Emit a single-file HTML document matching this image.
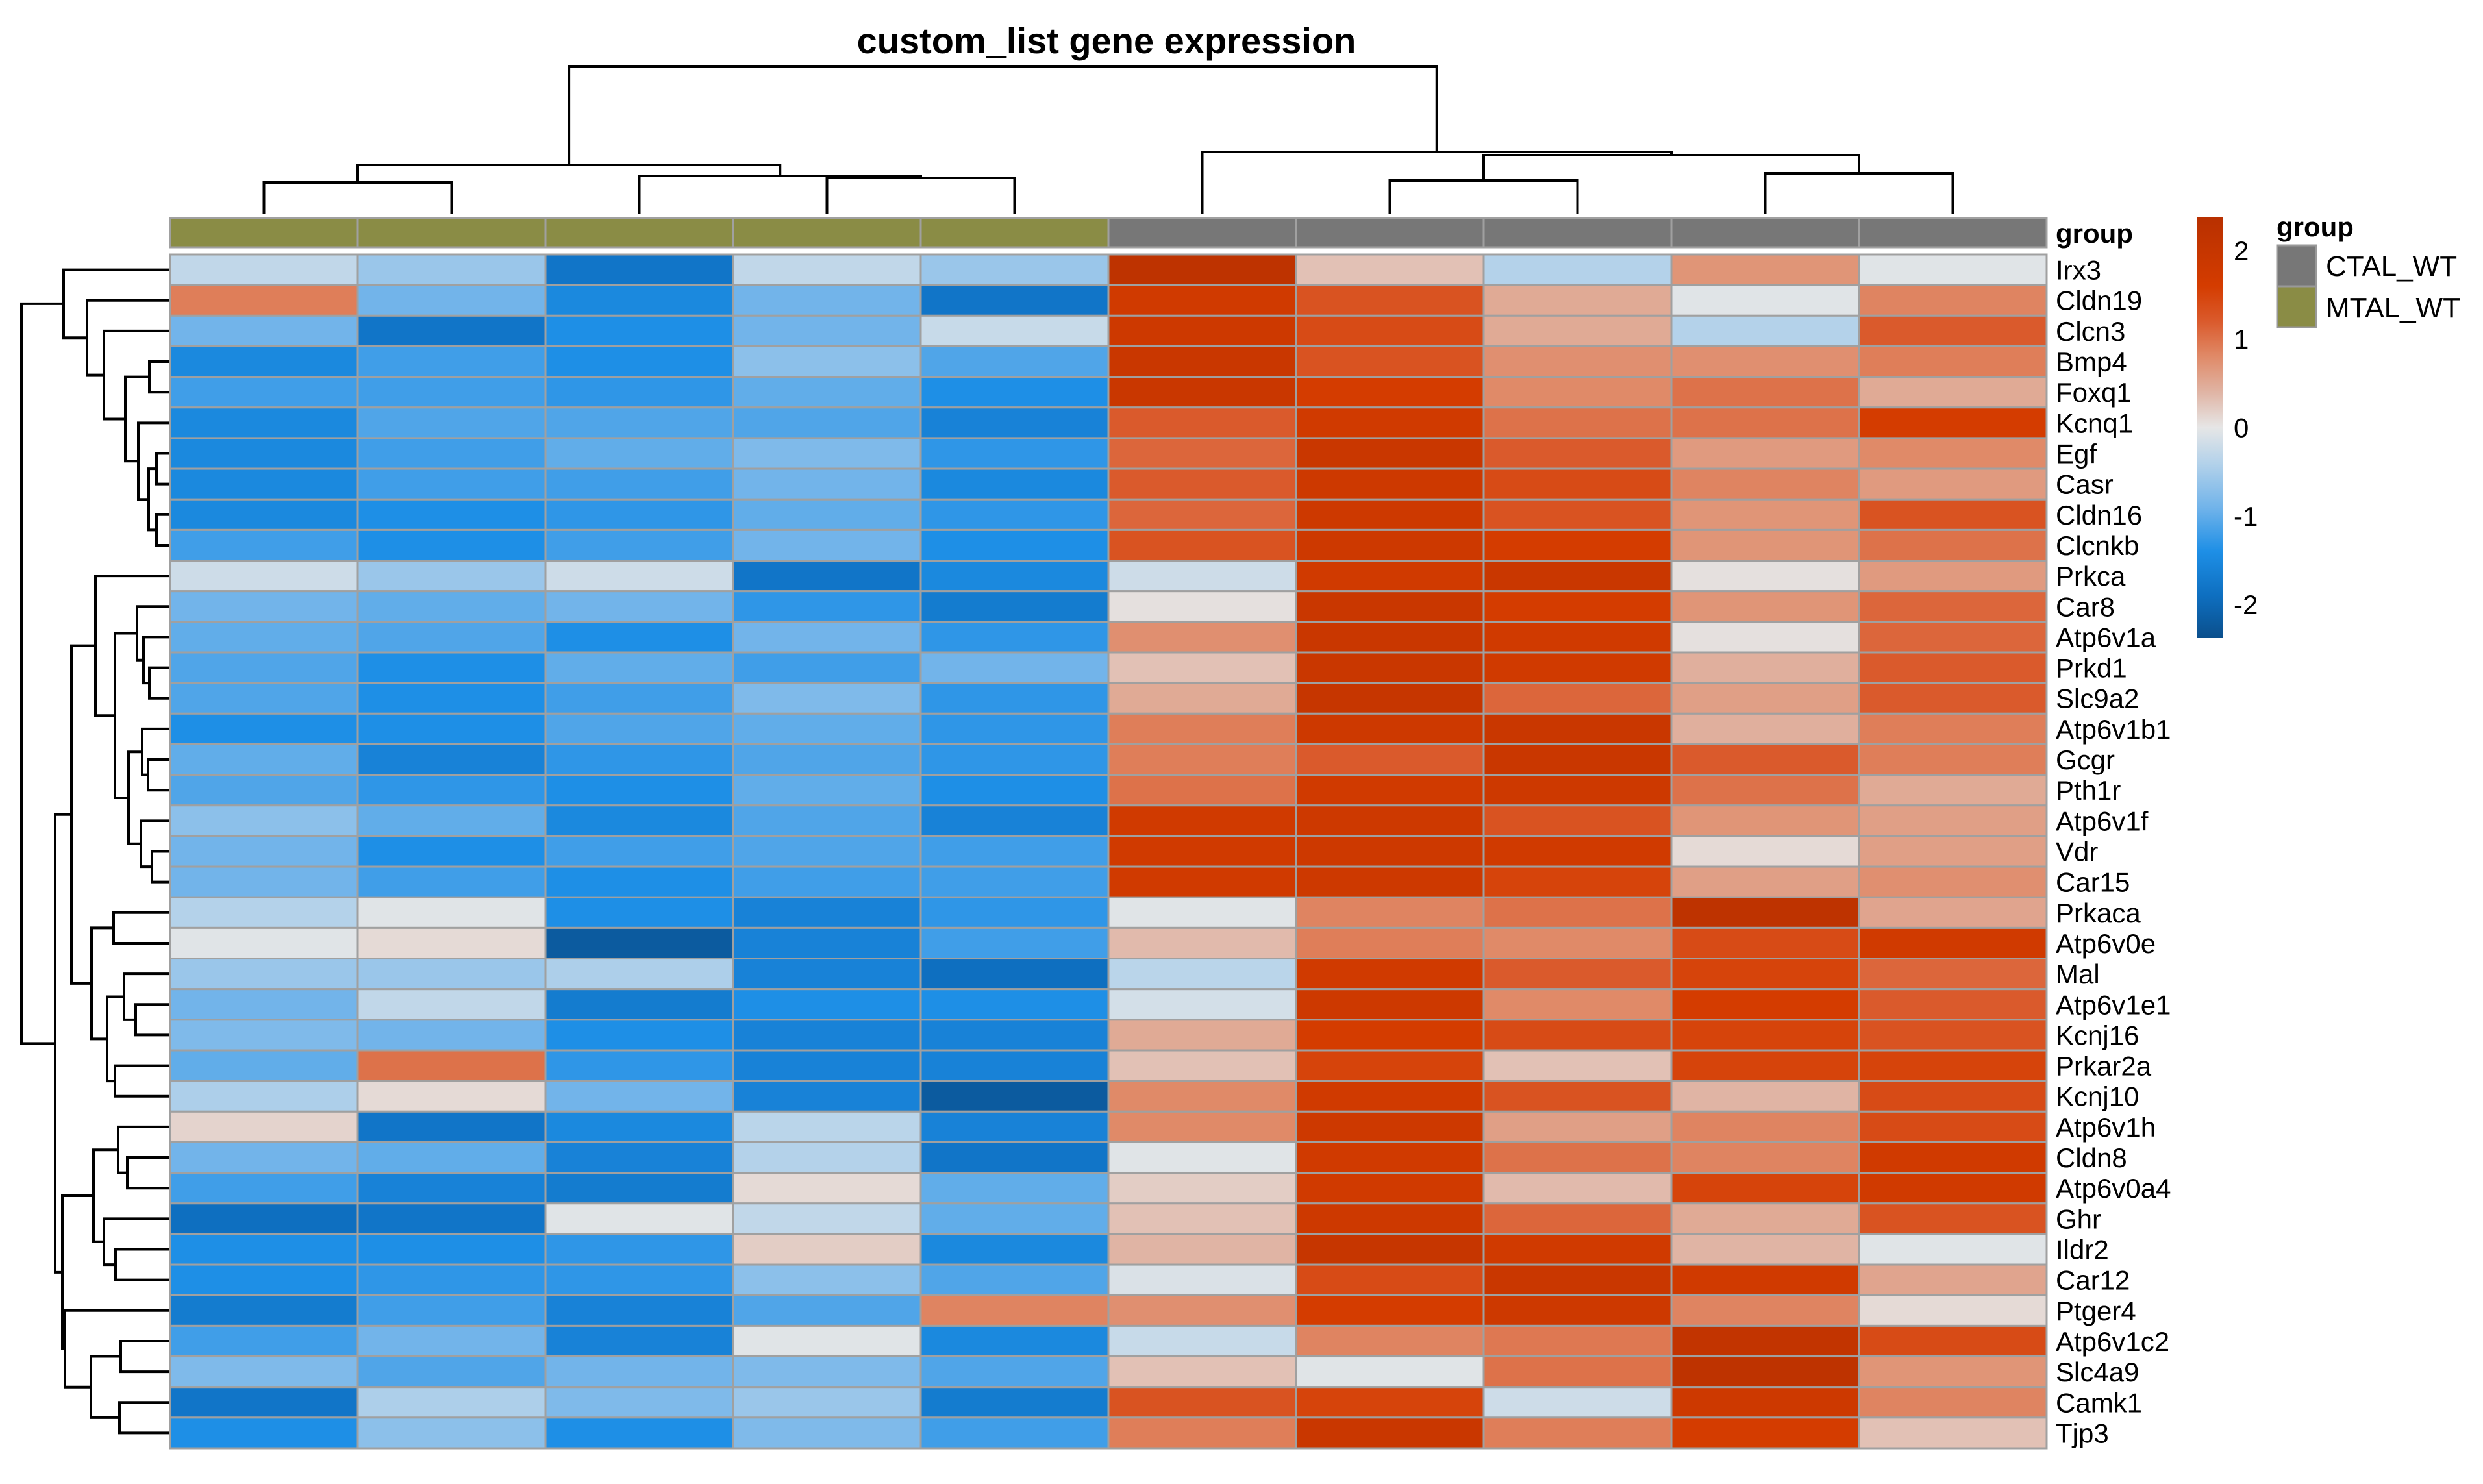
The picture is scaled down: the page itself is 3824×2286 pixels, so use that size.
<!DOCTYPE html>
<html><head><meta charset="utf-8"><style>
html,body{margin:0;padding:0;background:#fff;}
svg{display:block;font-family:"Liberation Sans",Arial,sans-serif;}
</style></head><body>
<svg id="chart" width="3824" height="2286" viewBox="0 0 3824 2286" xmlns="http://www.w3.org/2000/svg">
<rect width="3824" height="2286" fill="#fff"/>
<text x="1704" y="82" font-size="56" font-weight="bold" text-anchor="middle" fill="#000">custom_list gene expression</text>
<g id="coltree"></g>
<g id="rowtree"></g>
<g id="annot"></g>
<g id="cells"></g>
<g id="labels"></g>
<text x="3166" y="374" font-size="42" font-weight="bold">group</text>
<defs><linearGradient id="cbar" x1="0" y1="1" x2="0" y2="0">
<stop offset="0" stop-color="#0b4f8c"/><stop offset="0.101" stop-color="#0e6fc0"/><stop offset="0.206" stop-color="#1e8fe6"/><stop offset="0.311" stop-color="#72b4ea"/><stop offset="0.416" stop-color="#b4d2ea"/><stop offset="0.5" stop-color="#e6e6e6"/><stop offset="0.584" stop-color="#e0b4a4"/><stop offset="0.668" stop-color="#e08a68"/><stop offset="0.752" stop-color="#da5a2c"/><stop offset="0.836" stop-color="#d43c00"/><stop offset="1" stop-color="#b83000"/>
</linearGradient></defs>
<rect x="3383" y="334" width="40" height="649" fill="url(#cbar)"/>
<g id="cticks" font-size="42"></g>
<text x="3506" y="364" font-size="42" font-weight="bold">group</text>
<rect x="3507" y="378" width="60" height="63" fill="#777777" stroke="#999" stroke-width="3"/>
<rect x="3507" y="441" width="60" height="63" fill="#8a8c45" stroke="#999" stroke-width="3"/>
<text x="3582" y="425" font-size="44">CTAL_WT</text>
<text x="3582" y="489" font-size="44">MTAL_WT</text>
</svg>
<script>
const genes = ["Irx3","Cldn19","Clcn3","Bmp4","Foxq1","Kcnq1","Egf","Casr","Cldn16","Clcnkb","Prkca","Car8","Atp6v1a","Prkd1","Slc9a2","Atp6v1b1","Gcgr","Pth1r","Atp6v1f","Vdr","Car15","Prkaca","Atp6v0e","Mal","Atp6v1e1","Kcnj16","Prkar2a","Kcnj10","Atp6v1h","Cldn8","Atp6v0a4","Ghr","Ildr2","Car12","Ptger4","Atp6v1c2","Slc4a9","Camk1","Tjp3"];
const groups = ["MTAL_WT","MTAL_WT","MTAL_WT","MTAL_WT","MTAL_WT","CTAL_WT","CTAL_WT","CTAL_WT","CTAL_WT","CTAL_WT"];
const values = [
[-0.3,-0.6,-1.8,-0.3,-0.6, 2.2,0.3,-0.4,0.7,-0.05],
[0.9,-0.9,-1.5,-0.9,-1.8, 1.7,1.3,0.5,-0.05,0.85],
[-0.9,-1.8,-1.4,-0.9,-0.25, 1.8,1.4,0.5,-0.4,1.2],
[-1.5,-1.2,-1.4,-0.7,-1.1, 1.9,1.3,0.75,0.75,0.9],
[-1.2,-1.2,-1.3,-1.0,-1.4, 1.9,1.6,0.8,1.0,0.5],
[-1.5,-1.1,-1.1,-1.1,-1.6, 1.2,1.7,1.0,1.0,1.6],
[-1.5,-1.2,-1.0,-0.8,-1.3, 1.1,1.9,1.2,0.65,0.8],
[-1.5,-1.2,-1.2,-0.9,-1.5, 1.2,1.8,1.4,0.85,0.65],
[-1.5,-1.4,-1.3,-1.0,-1.3, 1.1,1.8,1.3,0.7,1.3],
[-1.2,-1.4,-1.2,-0.9,-1.4, 1.3,1.8,1.6,0.7,1.0],
[-0.2,-0.6,-0.2,-1.8,-1.5, -0.2,1.7,1.9,0.05,0.65],
[-0.9,-1.0,-0.9,-1.3,-1.7, 0.05,1.9,1.6,0.7,1.1],
[-1.0,-1.1,-1.4,-0.9,-1.3, 0.75,1.9,1.7,0.05,1.1],
[-1.1,-1.4,-1.0,-1.2,-0.9, 0.3,1.9,1.7,0.45,1.2],
[-1.1,-1.4,-1.2,-0.8,-1.3, 0.5,2.0,1.1,0.6,1.2],
[-1.4,-1.4,-1.1,-1.0,-1.3, 0.9,1.8,1.9,0.45,0.9],
[-1.0,-1.6,-1.3,-1.1,-1.3, 0.9,1.2,1.9,1.2,0.9],
[-1.1,-1.3,-1.4,-1.0,-1.4, 1.0,1.7,1.8,1.0,0.5],
[-0.7,-1.0,-1.5,-1.1,-1.6, 1.7,1.8,1.3,0.7,0.6],
[-0.9,-1.4,-1.2,-1.1,-1.2, 1.7,1.8,1.7,0.1,0.6],
[-0.9,-1.2,-1.4,-1.2,-1.2, 1.7,1.8,1.5,0.6,0.75],
[-0.4,-0.05,-1.4,-1.6,-1.3, -0.05,0.85,1.0,2.2,0.55],
[-0.05,0.1,-2.2,-1.6,-1.2, 0.35,0.9,0.8,1.4,1.7],
[-0.6,-0.6,-0.45,-1.6,-1.9, -0.35,1.7,1.2,1.5,1.1],
[-0.9,-0.3,-1.7,-1.4,-1.4, -0.15,1.8,0.8,1.6,1.2],
[-0.8,-0.9,-1.4,-1.6,-1.6, 0.5,1.6,1.4,1.5,1.3],
[-1.0,1.0,-1.3,-1.6,-1.6, 0.3,1.5,0.3,1.5,1.5],
[-0.45,0.1,-0.9,-1.6,-2.2, 0.8,1.7,1.3,0.4,1.4],
[0.15,-1.8,-1.5,-0.35,-1.6, 0.8,1.8,0.6,0.85,1.4],
[-0.9,-1.0,-1.6,-0.4,-1.8, -0.05,1.7,1.0,0.85,1.7],
[-1.2,-1.6,-1.7,0.1,-1.0, 0.2,1.7,0.35,1.5,1.7],
[-1.9,-1.8,-0.05,-0.3,-1.0, 0.3,1.8,1.1,0.5,1.3],
[-1.4,-1.4,-1.3,0.2,-1.5, 0.4,2.0,1.7,0.4,-0.05],
[-1.4,-1.3,-1.3,-0.7,-1.1, -0.1,1.4,1.9,1.7,0.55],
[-1.7,-1.2,-1.6,-1.1,0.85, 0.75,1.6,1.8,0.85,0.1],
[-1.2,-0.9,-1.6,-0.05,-1.5, -0.25,0.85,0.95,2.1,1.4],
[-0.8,-1.1,-0.9,-0.8,-1.1, 0.3,-0.05,1.0,2.2,0.7],
[-1.8,-0.45,-0.8,-0.6,-1.7, 1.3,1.5,-0.2,1.8,0.85],
[-1.4,-0.7,-1.4,-0.8,-1.2, 0.9,1.9,0.9,1.6,0.3]
];
const colorTicks = [2,1,0,-1,-2];
// hclust-style merges: negative = leaf (1-based), positive = merge id (1-based); third = height
const rowMerges = [[-4,-5,32],[-7,-8,21],[-9,-10,21],[2,3,33],[-6,4,49],[1,5,69],[-3,6,102],[-2,7,128],[-1,8,164],
[-14,-15,32],[-13,10,41],[-12,11,51],[-17,-18,34],[-16,13,43],[-20,-21,28],[-19,15,45],[14,16,64],[12,17,85],[-11,18,115],
[-22,-23,87],[-25,-26,53],[-24,21,71],[-27,-28,85],[22,23,97],[20,24,121],[19,25,152],
[-30,-31,66],[-29,27,80],[-33,-34,84],[-32,29,102],[28,30,118],[-36,-37,76],[-38,-39,78],[32,33,122],[-35,34,162],[31,35,166],[26,36,177],[9,37,229]];
const colMerges = [[-1,-2,49],[-4,-5,56],[-3,2,59],[1,3,76],[-7,-8,52],[-9,-10,63],[5,6,91],[-6,7,96],[4,8,228]];

const NS="http://www.w3.org/2000/svg";
const X0=262,X1=3152,Y0=392,Y1=2231;
const cw=(X1-X0)/groups.length, rh=(Y1-Y0)/genes.length;
const vmin=-2.38,vmax=2.38, cbTop=334, cbBot=983;
const stops=[[-2.38,[11,79,140]],[-1.9,[14,111,192]],[-1.4,[30,143,230]],[-0.9,[114,180,234]],[-0.4,[180,210,234]],[0,[230,230,230]],[0.4,[224,180,164]],[0.8,[224,138,104]],[1.2,[218,90,44]],[1.6,[212,60,0]],[2.38,[184,48,0]]];
function col(v){v=Math.max(vmin,Math.min(vmax,v));for(let i=0;i<stops.length-1;i++){const a=stops[i],b=stops[i+1];if(v<=b[0]){const t=(v-a[0])/(b[0]-a[0]);const c=a[1].map((x,k)=>Math.round(x+(b[1][k]-x)*t));return`rgb(${c.join(",")})`;}}return"rgb(184,48,0)";}
function xCol(j){return X0+j*cw;}
function yRow(i){return Y0+i*rh;}
function yVal(v){return cbBot-(v-vmin)/(vmax-vmin)*(cbBot-cbTop);}
function mk(tag,attrs,parent){const e=document.createElementNS(NS,tag);for(const k in attrs)e.setAttribute(k,attrs[k]);parent.appendChild(e);return e;}

const cells=document.getElementById('cells');
values.forEach((row,i)=>row.forEach((v,j)=>{
  const r=mk('rect',{x:xCol(j),y:yRow(i),width:cw,height:rh,fill:col(v),stroke:'#a0a0a0','stroke-width':3},cells);
  
  
}));
const annot=document.getElementById('annot');
groups.forEach((g,j)=>{
  const r=mk('rect',{x:xCol(j),y:336,width:cw,height:45,fill:g==='MTAL_WT'?'#8a8c45':'#777777',stroke:'#a0a0a0','stroke-width':3},annot);
  
  
});
const labels=document.getElementById('labels');
genes.forEach((g,i)=>{
  const t=mk('text',{x:3166,y:yRow(i)+rh/2+15,'font-size':42},labels);
  t.textContent=g;
  
  
});
const ct=document.getElementById('cticks');
colorTicks.forEach(v=>{
  const t=mk('text',{x:3440,y:yVal(v)+15},ct);
  t.textContent=String(v);
  
  
});
function dendro(merges,leafPos,place,g){
  const pos={},hts={};
  merges.forEach((m,k)=>{
    const get=i=>i<0?{p:leafPos(-i-1),h:0}:{p:pos[i],h:hts[i]};
    const a=get(m[0]),b=get(m[1]),h=m[2];
    const d=place(a,b,h);
    const p=mk('path',{d:d,fill:'none',stroke:'#000','stroke-width':4},g);
    
    
    pos[k+1]=(a.p+b.p)/2;hts[k+1]=h;
  });
}
const rowBase=X0, colBase=330;
dendro(rowMerges,i=>yRow(i)+rh/2,(a,b,h)=>{const xa=rowBase-a.h,xb=rowBase-b.h,x=rowBase-h;return`M${xa},${a.p}H${x}V${b.p}H${xb}`;},document.getElementById('rowtree'));
dendro(colMerges,j=>xCol(j)+cw/2,(a,b,h)=>{const ya=colBase-a.h,yb=colBase-b.h,y=colBase-h;return`M${a.p},${ya}V${y}H${b.p}V${yb}`;},document.getElementById('coltree'));
</script>
</body></html>
